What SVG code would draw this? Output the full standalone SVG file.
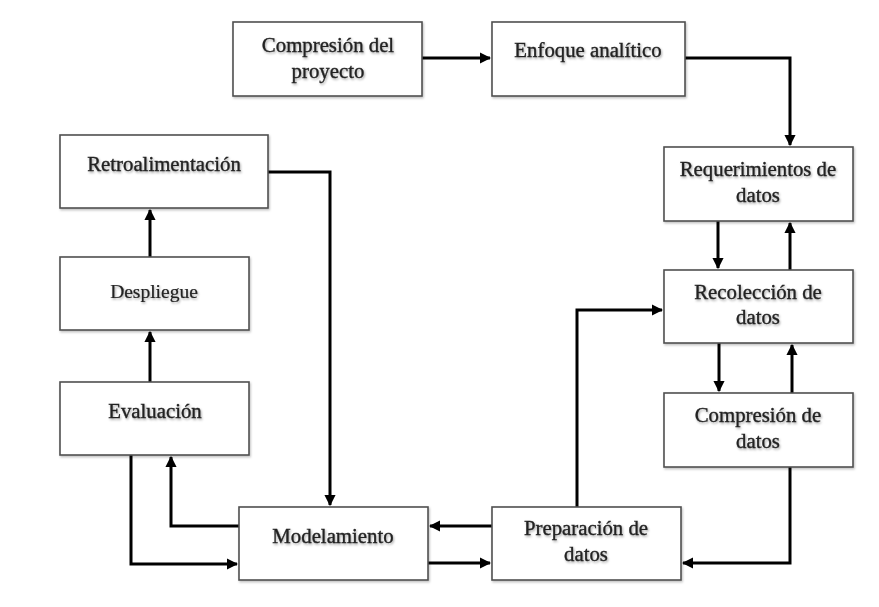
<svg xmlns="http://www.w3.org/2000/svg" width="879" height="607" viewBox="0 0 879 607">
<style>
.box{fill:#fff;stroke:#505050;stroke-width:1.6}
.t{font-family:"Liberation Serif","Times New Roman",serif;font-size:20.8px;fill:#222;stroke:#222;stroke-width:0.35;text-anchor:middle;filter:url(#sh)}
.c{fill:none;stroke:#000;stroke-width:3;marker-end:url(#ah)}
</style>
<defs>
<marker id="ah" viewBox="0 0 10 10" refX="9" refY="5" markerWidth="3.8" markerHeight="3.8" orient="auto" markerUnits="strokeWidth">
<path d="M0,0 L10,5 L0,10 z" fill="#000"/>
</marker>
<filter id="sh" x="-10%" y="-30%" width="120%" height="160%">
<feDropShadow dx="1" dy="1.5" stdDeviation="1" flood-color="#000" flood-opacity="0.35"/>
</filter>
<filter id="bs" x="-5%" y="-5%" width="110%" height="115%">
<feDropShadow dx="1" dy="1.5" stdDeviation="1" flood-color="#000" flood-opacity="0.25"/>
</filter>
</defs>
<g id="connectors">
<path class="c" d="M422,58 H490"/>
<path class="c" d="M685,58 H790 V145"/>
<path class="c" d="M718,221 V268"/>
<path class="c" d="M790,270 V223"/>
<path class="c" d="M719,343 V391"/>
<path class="c" d="M792,393 V345"/>
<path class="c" d="M790,467 V563 H683"/>
<path class="c" d="M577,507 V310 H662"/>
<path class="c" d="M492,526 H430"/>
<path class="c" d="M428,563 H490"/>
<path class="c" d="M268,172 H330 V505"/>
<path class="c" d="M239,526 H171 V457"/>
<path class="c" d="M131,455 V564 H237"/>
<path class="c" d="M150,382 V332"/>
<path class="c" d="M150,257 V210"/>
</g>
<g id="n1"><rect class="box" x="233" y="22" width="189" height="74" filter="url(#bs)"/><text class="t" x="328" y="52">Compresión del</text><text class="t" x="328" y="78">proyecto</text></g>
<g id="n2"><rect class="box" x="492" y="22" width="193" height="74" filter="url(#bs)"/><text class="t" x="588" y="57">Enfoque analítico</text></g>
<g id="n3"><rect class="box" x="664" y="147" width="189" height="74" filter="url(#bs)"/><text class="t" x="758" y="176">Requerimientos de</text><text class="t" x="758" y="202">datos</text></g>
<g id="n4"><rect class="box" x="664" y="270" width="189" height="73" filter="url(#bs)"/><text class="t" x="758" y="299">Recolección de</text><text class="t" x="758" y="324">datos</text></g>
<g id="n5"><rect class="box" x="664" y="393" width="189" height="74" filter="url(#bs)"/><text class="t" x="758" y="422">Compresión de</text><text class="t" x="758" y="448">datos</text></g>
<g id="n6"><rect class="box" x="60" y="135" width="208" height="73" filter="url(#bs)"/><text class="t" x="164" y="171">Retroalimentación</text></g>
<g id="n7"><rect class="box" x="60" y="257" width="189" height="73" filter="url(#bs)"/><text class="t" x="154" y="298" style="font-size:19.5px;stroke-width:0.2">Despliegue</text></g>
<g id="n8"><rect class="box" x="60" y="382" width="189" height="73" filter="url(#bs)"/><text class="t" x="155" y="418">Evaluación</text></g>
<g id="n9"><rect class="box" x="239" y="507" width="189" height="73" filter="url(#bs)"/><text class="t" x="333" y="543">Modelamiento</text></g>
<g id="n10"><rect class="box" x="492" y="507" width="189" height="73" filter="url(#bs)"/><text class="t" x="586" y="535">Preparación de</text><text class="t" x="586" y="561">datos</text></g>
</svg>
